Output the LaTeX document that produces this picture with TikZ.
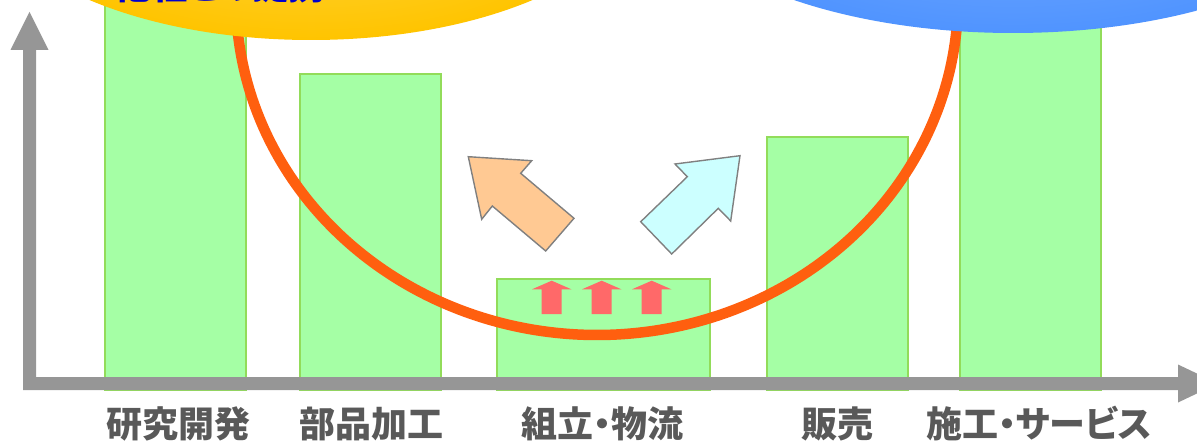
\documentclass[tikz,border=0pt]{standalone}
\usepackage{fontspec}
\newfontfamily\jp{Noto Sans CJK JP}[RawFeature=+palt]
\definecolor{barfill}{RGB}{165,255,165}
\definecolor{barline}{RGB}{146,220,90}
\definecolor{axisgray}{RGB}{150,150,150}
\definecolor{curvecol}{RGB}{255,95,15}
\definecolor{orangearrow}{RGB}{255,201,147}
\definecolor{cyanarrow}{RGB}{204,255,255}
\definecolor{redarrow}{RGB}{255,105,105}
\definecolor{labelgray}{RGB}{89,89,89}
\definecolor{textblue}{RGB}{0,0,204}
\definecolor{yellowin}{RGB}{255,218,80}
\definecolor{yellowout}{RGB}{255,196,0}
\definecolor{bluein}{RGB}{125,175,255}
\definecolor{blueout}{RGB}{80,148,255}
\definecolor{arrowline}{RGB}{128,128,128}
\tikzset{
  bar/.style={fill=barfill, draw=barline, line width=1.2pt},
  bigarrow/.style={draw=arrowline, line width=1.4pt, line join=miter},
  smallarrow/.style={fill=redarrow},
  label/.style={text=labelgray, font=\jp\bfseries\fontsize{36}{40}\selectfont, inner sep=0pt},
}
\begin{document}
\begin{tikzpicture}[x=1pt,y=-1pt]
\useasboundingbox (0,0) rectangle (1197,444);
\clip (0,0) rectangle (1197,444);
% bars
\path[bar] (105,-5) rectangle (246,390);
\path[bar] (300,74) rectangle (441,390);
\path[bar] (497,279) rectangle (710,390);
\path[bar] (767,137) rectangle (908,390);
\path[bar] (960,-5) rectangle (1101,390);
% axes
\fill[axisgray] (29.5,12) -- (48.5,50) -- (36,50) -- (36,377) -- (1178,377) -- (1178,364.5)
  -- (1218,383.5) -- (1178,402.5) -- (1178,390) -- (23,390) -- (23,50) -- (10.5,50) -- cycle;
% smile curve
\draw[curvecol, line width=10.5pt] plot[domain=-6:186, samples=160, smooth]
  ({597+361*cos(\x)},{-1+336*sin(\x)});
% red small arrows
\foreach \cx in {551.7,601.7,651.7}{
  \fill[smallarrow] (\cx,280.7) -- (\cx+19.7,289.3) -- (\cx+10,289.3) -- (\cx+10,314)
    -- (\cx-10,314) -- (\cx-10,289.3) -- (\cx-19.7,289.3) -- cycle;
}
% diagonal arrows
\path[bigarrow, fill=orangearrow] (468.3,156.7) -- (531.7,160.7) -- (520.7,173.3) -- (574,218.3)
  -- (545.7,251) -- (492.3,206) -- (481.7,219.3) -- cycle;
\path[bigarrow, fill=cyanarrow] (740,155.7) -- (675,164) -- (687.3,176.7) -- (640.7,221.7)
  -- (671.7,254) -- (718.3,208.3) -- (730.7,221) -- cycle;
% ellipses
\shade[inner color=yellowin, outer color=yellowout] (311,-120) ellipse [x radius=335, y radius=160];
\node[text=textblue, font=\jp\bfseries\fontsize{36}{40}\selectfont, inner sep=0pt, anchor=base west]
  (partner) at (115,0) {他社との提携};
\shade[inner color=bluein, outer color=blueout] (1013,-127) ellipse [x radius=360, y radius=160];
% labels
\node[label] (l1) at (178,424) {研究開発};
\node[label] (l2) at (371,424) {部品加工};
\node[label] (l3) at (602,424) {組立・物流};
\node[label] (l4) at (837,424) {販売};
\node[label] (l5) at (1039,424) {施工・サービス};
\end{tikzpicture}
\end{document}
